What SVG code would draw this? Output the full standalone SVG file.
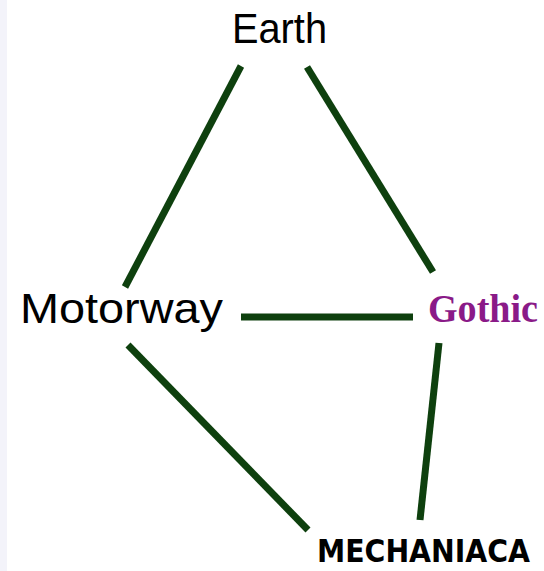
<svg xmlns="http://www.w3.org/2000/svg" width="544" height="571" viewBox="0 0 544 571">
<style>
.edge{stroke:#0e400e;stroke-width:7;stroke-linecap:butt;fill:none}
.lbl{font-family:"Liberation Sans",Arial,sans-serif;fill:#000}
</style>
<rect x="0" y="0" width="544" height="571" fill="#ffffff"/>
<rect x="0" y="0" width="7" height="571" fill="#f3f3fa"/>
<g id="connectors">
<line class="edge" x1="241" y1="66" x2="125" y2="287"/>
<line class="edge" x1="307" y1="67" x2="433" y2="272"/>
<line class="edge" x1="241" y1="317" x2="413" y2="317" stroke-width="6"/>
<line class="edge" x1="128" y1="345" x2="308" y2="530"/>
<line class="edge" x1="439" y1="343" x2="420" y2="520" stroke-width="5"/>
</g>
<g id="node-earth"><text class="lbl" x="232" y="43" font-size="42" textLength="95" lengthAdjust="spacingAndGlyphs">Earth</text></g>
<g id="node-motorway"><text class="lbl" x="20" y="323" font-size="42" textLength="203" lengthAdjust="spacingAndGlyphs">Motorway</text></g>
<g id="node-gothic"><text x="428" y="322" font-family="'Liberation Serif','Times New Roman',serif" font-weight="bold" font-size="40" fill="#8a1a88" textLength="110" lengthAdjust="spacingAndGlyphs">Gothic</text></g>
<g id="node-mechaniaca"><text x="317" y="562" font-family="'DejaVu Sans Condensed','DejaVu Sans',sans-serif" font-weight="bold" font-size="32" fill="#000" textLength="213" lengthAdjust="spacingAndGlyphs">MECHANIACA</text></g>
</svg>
